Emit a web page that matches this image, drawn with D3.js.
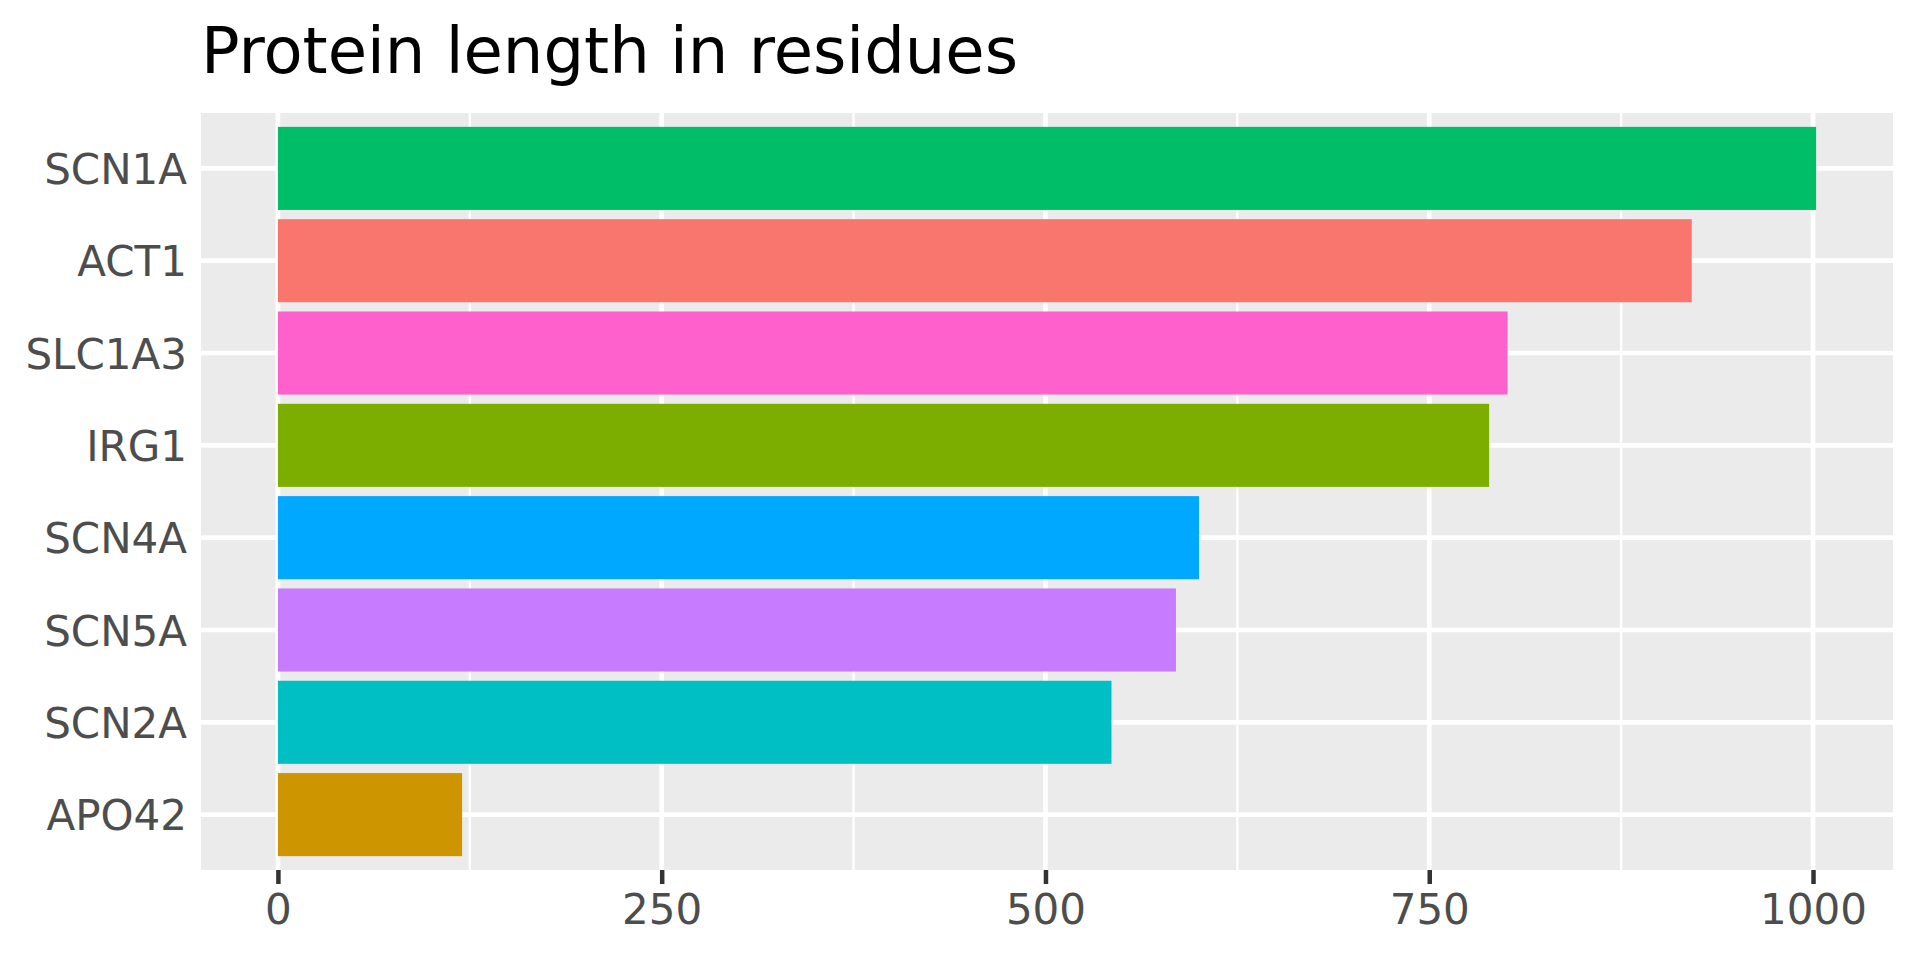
<!DOCTYPE html>
<html>
<head>
<meta charset="utf-8">
<script src="https://cdn.jsdelivr.net/npm/d3@7"></script>
<style>
  html, body { margin: 0; padding: 0; background: #ffffff; }
  svg { display: block; }
</style>
</head>
<body>
<svg id="chart" width="1920" height="960"></svg>
<script>
// ---- data ----
const categories = ["SCN1A", "ACT1", "SLC1A3", "IRG1", "SCN4A", "SCN5A", "SCN2A", "APO42"];
const lengths    = [1002, 921, 801, 789, 600, 585, 543, 120];
const colors     = ["#00BE67", "#F8766D", "#FF61CC", "#7CAE00", "#00A9FF", "#C77CFF", "#00BFC4", "#CD9600"];
const majorTicks = [0, 250, 500, 750, 1000];
const minorTicks = [125, 375, 625, 875];
const titleText  = "Protein length in residues";

// ---- layout ----
const svg = d3.select("#chart");
const panel = { left: 201, top: 113, right: 1893, bottom: 870 };
const maxV = d3.max(lengths);
const pad = maxV * 0.05;

const x = d3.scaleLinear()
  .domain([-pad, maxV + pad])
  .range([panel.left, panel.right]);

// discrete scale with 0.6 expansion on each side
const n = categories.length;
const step = (panel.bottom - panel.top) / (n - 1 + 1.2);
const y = d3.scalePoint()
  .domain(categories)
  .range([panel.top + 0.6 * step, panel.bottom - 0.6 * step]);
const barH = step * 0.9;

// panel background
svg.append("rect")
  .attr("x", panel.left).attr("y", panel.top)
  .attr("width", panel.right - panel.left)
  .attr("height", panel.bottom - panel.top)
  .attr("fill", "#EBEBEB");

// minor vertical gridlines
svg.append("g").selectAll("line").data(minorTicks).join("line")
  .attr("x1", d => x(d)).attr("x2", d => x(d))
  .attr("y1", panel.top).attr("y2", panel.bottom)
  .attr("stroke", "#ffffff").attr("stroke-width", 2.4);

// major vertical gridlines
svg.append("g").selectAll("line").data(majorTicks).join("line")
  .attr("x1", d => x(d)).attr("x2", d => x(d))
  .attr("y1", panel.top).attr("y2", panel.bottom)
  .attr("stroke", "#ffffff").attr("stroke-width", 4.7);

// horizontal gridlines
svg.append("g").selectAll("line").data(categories).join("line")
  .attr("x1", panel.left).attr("x2", panel.right)
  .attr("y1", d => y(d)).attr("y2", d => y(d))
  .attr("stroke", "#ffffff").attr("stroke-width", 4.7);

// bars
svg.append("g").selectAll("rect").data(categories).join("rect")
  .attr("x", x(0))
  .attr("y", d => y(d) - barH / 2)
  .attr("width", (d, i) => x(lengths[i]) - x(0))
  .attr("height", barH)
  .attr("fill", (d, i) => colors[i]);

// x axis
const xAxis = d3.axisBottom(x)
  .tickValues(majorTicks)
  .tickSize(14)
  .tickPadding(10)
  .tickFormat(d3.format("d"));
const gx = svg.append("g")
  .attr("transform", `translate(0,${panel.bottom})`)
  .call(xAxis);
gx.select(".domain").remove();
gx.selectAll(".tick line").attr("stroke", "#333333").attr("stroke-width", 4.5);
gx.selectAll(".tick text")
  .attr("fill", "#4D4D4D")
  .attr("font-family", "DejaVu Sans")
  .attr("font-size", 42);

// y axis (no ticks)
const yAxis = d3.axisLeft(y).tickSize(0).tickPadding(14);
const gy = svg.append("g")
  .attr("transform", `translate(${panel.left},0)`)
  .call(yAxis);
gy.select(".domain").remove();
gy.selectAll(".tick line").remove();
gy.selectAll(".tick text")
  .attr("fill", "#4D4D4D")
  .attr("font-family", "DejaVu Sans")
  .attr("font-size", 42)
  .attr("dy", "0.36em");

// title
svg.append("text")
  .attr("x", panel.left)
  .attr("y", 73)
  .attr("font-family", "DejaVu Sans")
  .attr("font-size", 64)
  .attr("fill", "#000000")
  .text(titleText);
</script>
</body>
</html>
